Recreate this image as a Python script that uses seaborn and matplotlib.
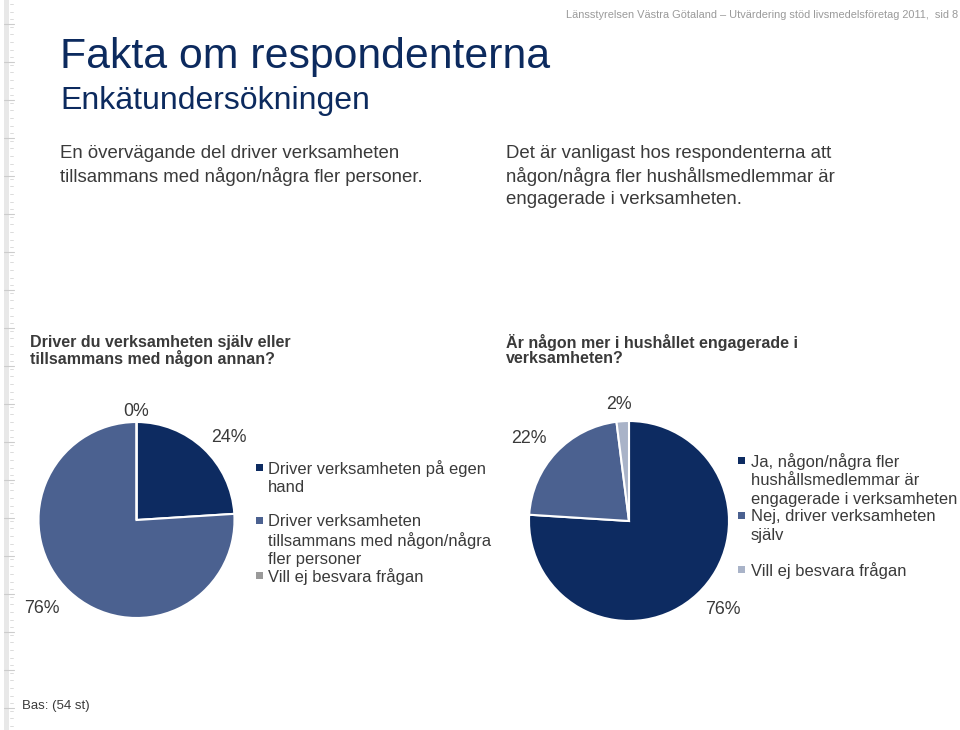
import numpy as np
import pandas as pd
import matplotlib
matplotlib.use("Agg")
import matplotlib.pyplot as plt
from matplotlib.patches import Rectangle
from matplotlib.lines import Line2D
import seaborn as sns

# ---------------- data ----------------
left_categories = ["Driver verksamheten på egen\nhand",
                   "Driver verksamheten\ntillsammans med någon/några\nfler personer",
                   "Vill ej besvara frågan"]
left_values = [24, 76, 0]
left_labels = ["24%", "76%", "0%"]

right_categories = ["Ja, någon/några fler\nhushållsmedlemmar är\nengagerade i verksamheten",
                    "Nej, driver verksamheten\nsjälv",
                    "Vill ej besvara frågan"]
right_values = [76, 22, 2]
right_labels = ["76%", "22%", "2%"]

title = "Fakta om respondenterna"
subtitle = "Enkätundersökningen"
header = "Länsstyrelsen Västra Götaland – Utvärdering stöd livsmedelsföretag 2011,  sid 8"
left_text = "En övervägande del driver verksamheten\ntillsammans med någon/några fler personer."
right_text = "Det är vanligast hos respondenterna att\nnågon/några fler hushållsmedlemmar är\nengagerade i verksamheten."
left_question = "Driver du verksamheten själv eller\ntillsammans med någon annan?"
right_question = "Är någon mer i hushållet engagerade i\nverksamheten?"
base_note = "Bas: (54 st)"

# ---------------- style ----------------
sns.set_theme(style="white")
plt.rcParams["font.family"] = ["Liberation Sans", "DejaVu Sans"]

W, H = 960, 730
fig = plt.figure(figsize=(W / 100, H / 100), dpi=100)
fig.patch.set_facecolor("white")

def fx(x):
    return x / W

def fy(y):
    return 1 - y / H

NAVY = "#0c2a5e"
TXT = "#3a3a3a"
left_colors = ["#0d2b61", "#4b6190", "#9a9a9a"]
right_colors = ["#0d2b61", "#4b6190", "#a9b3c8"]

def lines_text(x, y0, step, text, **kw):
    for i, line in enumerate(text.split("\n")):
        fig.text(fx(x), fy(y0 - 2 + i * step), line, ha="left", va="center_baseline", **kw)

# ruler decoration at the left edge
fig.add_artist(Rectangle((fx(4), 0), fx(5), 1, transform=fig.transFigure,
                         facecolor="#e8e8e8", edgecolor="none"))
for y in np.arange(4, H, 7.6):
    fig.add_artist(Line2D([fx(10), fx(13)], [fy(y), fy(y)], transform=fig.transFigure,
                          color="#d6d6d6", lw=0.6))
for y in np.arange(24, H, 38):
    fig.add_artist(Line2D([fx(4), fx(14)], [fy(y), fy(y)], transform=fig.transFigure,
                          color="#cccccc", lw=0.8))

# header texts
fig.text(fx(958), fy(15), header, ha="right", va="center", fontsize=7.9, color="#9a9a9a")
fig.text(fx(60), fy(68), title, ha="left", va="baseline", fontsize=30.8, color=NAVY)
fig.text(fx(60), fy(109), subtitle, ha="left", va="baseline", fontsize=23, color=NAVY)

lines_text(60, 153, 23, left_text, fontsize=13.45, color=TXT)
lines_text(506, 153, 23, right_text, fontsize=13.45, color=TXT)

lines_text(30, 343, 16, left_question, fontsize=11.5, color=TXT, fontweight="bold")
lines_text(506, 343, 16, right_question, fontsize=11.5, color=TXT, fontweight="bold")

fig.text(fx(22), fy(706), base_note, ha="left", va="center", fontsize=9.5, color=TXT)

# ---------------- pies ----------------
def draw_pie(cx, cy, r, values, colors, labels, label_r, label_shift):
    ax = fig.add_axes([fx(cx - r), fy(cy + r), 2 * r / W, 2 * r / H])
    wedges, _ = ax.pie(values, colors=colors, startangle=90, counterclock=False,
                       radius=1.0, wedgeprops=dict(edgecolor="white", linewidth=1.5))
    for w, lab, d, s in zip(wedges, labels, label_r, label_shift):
        mid = np.deg2rad((w.theta1 + w.theta2) / 2 + s)
        ax.text(d * np.cos(mid), d * np.sin(mid), lab, ha="center", va="center",
                fontsize=12.8, color=TXT)
    ax.set_xlim(-1, 1)
    ax.set_ylim(-1, 1)
    ax.set_aspect("equal")
    ax.axis("off")
    return ax

draw_pie(136.5, 520, 98, left_values, left_colors, left_labels,
         [1.26, 1.32, 1.11], [-4.9, -3.8, 0])
draw_pie(629, 521, 100, right_values, right_colors, right_labels,
         [1.29, 1.30, 1.17], [3.4, 3.6, 1.3])

# ---------------- legends ----------------
def draw_legend(x_marker, x_text, ys, cats, colors):
    for y, cat, c in zip(ys, cats, colors):
        fig.add_artist(Rectangle((fx(x_marker - 3.5), fy(y + 1.5)), 7 / W, 7 / H,
                                 transform=fig.transFigure, facecolor=c, edgecolor="none"))
        lines_text(x_text, y, 18.8, cat, fontsize=11.9, color=TXT)

draw_legend(259, 268, [469, 522, 577], left_categories, left_colors)
draw_legend(741, 751, [462, 517, 571], right_categories, right_colors)

fig.savefig("out.png", dpi=100, facecolor="white")
